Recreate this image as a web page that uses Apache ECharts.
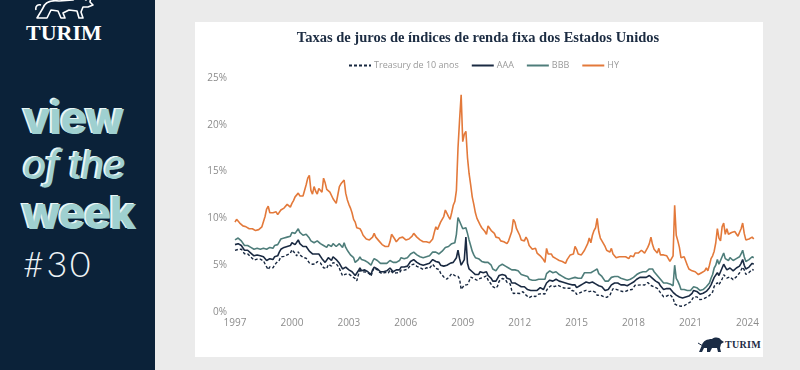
<!DOCTYPE html>
<html><head><meta charset="utf-8">
<script src="https://cdn.jsdelivr.net/npm/echarts@6/dist/echarts.min.js"></script>
<style>
html,body{margin:0;padding:0;width:800px;height:370px;overflow:hidden;background:#ebebeb;}
#side{position:absolute;left:0;top:0;width:155px;height:370px;background:#0b2239;}
#card{position:absolute;left:195px;top:22px;width:568px;height:335px;background:#ffffff;}
#chart{position:absolute;left:0;top:0;width:800px;height:370px;}
.t{position:absolute;white-space:nowrap;line-height:1;}
#brand{left:26px;top:19.5px;font:bold 22px "Liberation Serif",serif;color:#ffffff;}
#v1{left:23px;top:90px;font:800 45px Inter,sans-serif;letter-spacing:-1.5px;color:#9fd0d0;text-shadow:-2px -1px 0 #eaf6f6;}
#v2{left:23px;top:141px;font:italic 500 39px Inter,sans-serif;letter-spacing:-1px;color:#9fd0d0;text-shadow:-2px -1px 0 #eaf6f6;}
#v3{left:22px;top:185px;font:800 45px Inter,sans-serif;letter-spacing:-1.5px;color:#9fd0d0;text-shadow:-2px -1px 0 #eaf6f6;}
#v4{left:23px;top:241px;font:300 36px Lato,sans-serif;letter-spacing:2.5px;color:#eef3f5;}
#bull1{position:absolute;left:33px;top:-6px;}
#blogo{position:absolute;left:697px;top:335px;}
#btxt{left:725px;top:339px;font:bold 10px "Liberation Serif",serif;color:#1b2c45;letter-spacing:0.3px;}
</style></head>
<body>
<div id="side">
  <svg id="bull1" width="66" height="26" viewBox="0 0 66 26">
    <path d="M4,24 L10,14 C12,8 18,6 26,7 L40,6 C44,3 49,3 53,6 L58,2 L57,8 L60,11 L55,13 L50,13 L48,18 L50,24 L46,24 L44,17 L36,16 L30,19 L32,24 L28,24 L25,17 L18,16 L14,24 Z M3,16 C2,12 5,10 8,11" fill="none" stroke="#ffffff" stroke-width="1.6" stroke-linejoin="round"/>
  </svg>
  <div class="t" id="brand">TURIM</div>
  <div class="t" id="v1">view</div>
  <div class="t" id="v2">of the</div>
  <div class="t" id="v3">week</div>
  <div class="t" id="v4">#30</div>
</div>
<div id="card"></div>
<svg id="blogo" width="28" height="18" viewBox="0 0 28 18">
  <path d="M2,17 L5,10 C6,6 10,4 15,4 C18,2 22,2 24,5 L27,7 L24,9 L23,13 L24,17 L21,17 L20,13 L15,13 L13,17 L10,17 L10,13 L7,13 L5,17 Z" fill="#1b2c45"/>
  <path d="M1,8 L6,11" stroke="#1b2c45" stroke-width="1"/>
</svg>
<div class="t" id="btxt">TURIM</div>
<div id="chart"></div>
<script>
// Monthly values, Jan 1997 .. May 2024 (%)
const startYear = 1997;
const xTickYears = [1997, 2000, 2003, 2006, 2009, 2012, 2015, 2018, 2021, 2024];
const yTicks = [0, 5, 10, 15, 20, 25];
const seriesNames = ['Treasury de 10 anos', 'AAA', 'BBB', 'HY'];

const treasury = [
6.58,6.42,6.69,6.89,6.71,6.49,6.22,6.30,6.21,6.03,5.88,5.81,
5.54,5.57,5.65,5.64,5.65,5.50,5.46,5.34,4.81,4.53,4.83,4.65,
4.72,5.00,5.23,5.18,5.54,5.90,5.79,5.94,5.92,6.11,6.03,6.28,
6.66,6.52,6.26,5.99,6.44,6.10,6.05,5.83,5.80,5.74,5.72,5.24,
5.16,5.10,4.89,5.14,5.39,5.28,5.24,4.97,4.73,4.57,4.65,5.09,
5.04,4.91,5.28,5.21,5.16,4.93,4.65,4.26,3.87,3.94,4.05,4.03,
4.05,3.90,3.81,3.96,3.57,3.33,3.98,4.45,4.27,4.29,4.30,4.27,
4.15,4.08,3.83,4.35,4.72,4.73,4.50,4.28,4.13,4.10,4.19,4.23,
4.22,4.17,4.50,4.34,4.14,4.00,4.18,4.26,4.20,4.46,4.54,4.47,
4.42,4.57,4.72,4.99,5.11,5.11,5.09,4.88,4.72,4.73,4.60,4.56,
4.76,4.72,4.56,4.69,4.75,5.10,5.00,4.67,4.52,4.53,4.15,4.10,
3.74,3.74,3.51,3.68,3.88,4.10,4.01,3.89,3.69,3.81,3.53,2.42,
2.52,2.87,2.82,2.93,3.29,3.72,3.56,3.59,3.40,3.39,3.40,3.59,
3.73,3.69,3.73,3.85,3.42,3.20,3.01,2.70,2.65,2.54,2.76,3.29,
3.39,3.58,3.41,3.46,3.17,3.00,3.00,2.30,1.98,2.15,2.01,1.98,
1.97,1.97,2.17,2.05,1.80,1.62,1.53,1.68,1.72,1.75,1.65,1.72,
1.91,1.98,1.96,1.76,1.93,2.30,2.58,2.74,2.81,2.62,2.72,2.90,
2.86,2.71,2.72,2.71,2.56,2.60,2.54,2.42,2.53,2.30,2.33,2.21,
1.88,1.98,2.04,1.94,2.20,2.36,2.32,2.17,2.17,2.07,2.26,2.24,
2.09,1.78,1.89,1.81,1.81,1.64,1.50,1.56,1.63,1.76,2.14,2.49,
2.43,2.42,2.48,2.30,2.30,2.19,2.32,2.21,2.20,2.36,2.35,2.40,
2.58,2.86,2.84,2.87,2.98,2.91,2.89,2.89,3.00,3.15,3.12,2.83,
2.71,2.68,2.57,2.53,2.40,2.07,2.06,1.63,1.70,1.71,1.81,1.86,
1.76,1.50,0.87,0.66,0.67,0.73,0.62,0.65,0.68,0.79,0.87,0.93,
1.08,1.26,1.61,1.64,1.62,1.52,1.32,1.28,1.37,1.58,1.56,1.47,
1.76,1.93,2.13,2.75,2.90,3.14,2.90,2.90,3.52,3.98,3.89,3.62,
3.53,3.75,3.66,3.46,3.57,3.75,3.90,4.17,4.38,4.80,4.50,4.02,
4.06,4.21,4.21,4.54,4.48];

const aaa = [
7.2,7.0,7.3,7.3,7.1,6.9,6.6,6.7,6.6,6.4,6.3,6.2,
6.0,6.0,6.1,6.1,6.0,5.9,5.9,5.8,5.5,5.5,5.7,5.6,
5.6,5.9,6.0,6.0,6.4,6.7,6.7,6.9,6.8,7.0,6.9,7.1,
7.4,7.3,7.2,7.3,7.7,7.3,7.2,7.0,7.0,7.0,6.9,6.5,
6.3,6.2,6.0,6.2,6.3,6.2,6.0,5.7,5.6,5.3,5.4,5.8,
5.7,5.5,5.9,5.7,5.6,5.4,5.2,4.9,4.6,4.8,4.8,4.6,
4.5,4.3,4.3,4.3,3.9,3.8,4.4,4.7,4.4,4.5,4.5,4.4,
4.3,4.2,4.0,4.5,4.8,4.8,4.6,4.4,4.3,4.2,4.3,4.4,
4.4,4.4,4.7,4.5,4.3,4.3,4.5,4.5,4.5,4.8,4.9,4.8,
4.8,4.9,5.1,5.4,5.5,5.6,5.5,5.3,5.1,5.1,5.0,5.0,
5.2,5.1,5.1,5.2,5.3,5.6,5.5,5.4,5.3,5.3,5.0,5.1,
4.9,5.0,5.0,5.1,5.2,5.4,5.3,5.3,5.8,6.6,5.7,5.0,
5.1,5.6,8.0,5.2,4.6,4.5,4.3,4.2,4.0,4.1,4.0,4.3,
4.3,4.2,4.3,4.3,3.9,3.8,3.6,3.3,3.3,3.3,3.6,3.9,
3.9,4.0,3.9,3.9,3.6,3.6,3.5,3.1,3.0,3.1,3.0,2.9,
2.8,2.7,2.8,2.7,2.5,2.4,2.2,2.3,2.3,2.3,2.2,2.3,
2.5,2.6,2.6,2.4,2.6,3.1,3.3,3.4,3.5,3.3,3.4,3.5,
3.4,3.3,3.3,3.2,3.1,3.1,3.1,3.0,3.1,2.9,2.9,2.9,
2.6,2.7,2.8,2.7,3.0,3.2,3.2,3.1,3.1,3.0,3.2,3.1,
3.0,2.8,2.8,2.7,2.7,2.5,2.3,2.4,2.4,2.5,2.9,3.1,
3.1,3.0,3.1,2.9,2.9,2.8,2.9,2.8,2.8,2.9,3.0,3.0,
3.2,3.4,3.5,3.6,3.7,3.7,3.7,3.6,3.7,3.9,3.9,3.8,
3.6,3.5,3.3,3.3,3.1,2.8,2.8,2.4,2.5,2.5,2.5,2.5,
2.3,2.1,2.3,1.8,1.7,1.6,1.4,1.5,1.5,1.6,1.7,1.7,
1.8,2.0,2.3,2.3,2.2,2.1,1.9,2.0,2.0,2.2,2.2,2.2,
2.6,2.9,3.1,3.7,3.9,4.2,3.9,4.0,4.7,5.1,4.8,4.5,
4.4,4.7,4.5,4.4,4.6,4.7,4.7,4.9,5.2,5.6,5.0,4.6,
4.7,4.8,4.8,5.2,5.1];

const bbb = [
7.7,7.6,7.9,7.8,7.6,7.4,7.1,7.2,7.1,7.0,6.9,6.8,
6.7,6.8,6.8,6.8,6.7,6.7,6.8,6.9,6.7,6.9,6.9,6.8,
6.8,7.1,7.2,7.2,7.5,7.8,7.7,7.9,7.9,8.0,7.9,8.1,
8.5,8.5,8.4,8.6,8.9,8.5,8.4,8.2,8.2,8.3,8.2,7.9,
7.6,7.5,7.4,7.5,7.6,7.5,7.3,7.1,7.1,6.9,6.9,7.2,
7.1,7.0,7.3,7.1,7.0,7.1,7.3,7.1,6.9,7.4,6.9,6.6,
6.4,6.1,6.0,5.8,5.3,5.1,5.6,5.9,5.6,5.6,5.5,5.4,
5.3,5.2,5.0,5.4,5.7,5.7,5.5,5.3,5.2,5.1,5.2,5.2,
5.2,5.1,5.5,5.4,5.3,5.2,5.3,5.4,5.5,5.8,5.8,5.7,
5.7,5.8,6.0,6.2,6.3,6.4,6.3,6.1,5.9,5.9,5.8,5.8,
6.0,5.9,5.9,6.0,6.1,6.4,6.4,6.4,6.3,6.2,6.3,6.5,
6.6,6.9,7.1,7.0,6.9,7.3,7.4,7.4,8.3,10.1,9.9,9.3,
8.9,9.1,9.0,8.4,7.7,7.1,6.5,6.1,5.8,5.7,5.7,5.6,
5.4,5.4,5.3,5.3,5.3,5.2,5.0,4.6,4.5,4.4,4.6,4.9,
5.0,5.1,5.0,4.9,4.7,4.7,4.6,4.5,4.6,4.5,4.5,4.4,
4.2,4.0,4.0,3.9,3.9,3.8,3.5,3.5,3.4,3.3,3.4,3.4,
3.5,3.6,3.5,3.3,3.5,4.1,4.3,4.4,4.4,4.2,4.3,4.3,
4.2,4.0,3.9,3.8,3.7,3.6,3.6,3.5,3.7,3.6,3.6,3.7,
3.5,3.6,3.7,3.6,3.9,4.2,4.2,4.2,4.3,4.2,4.3,4.4,
4.5,4.6,4.1,3.9,3.8,3.6,3.3,3.3,3.3,3.4,3.7,3.8,
3.8,3.7,3.8,3.6,3.6,3.5,3.5,3.4,3.4,3.5,3.5,3.5,
3.7,3.9,4.0,4.1,4.2,4.3,4.3,4.2,4.3,4.5,4.6,4.8,
4.6,4.3,4.1,3.9,3.9,3.5,3.4,3.1,3.1,3.1,3.0,3.0,
2.9,2.8,5.0,3.6,3.3,2.9,2.4,2.3,2.4,2.4,2.3,2.2,
2.3,2.4,2.7,2.6,2.6,2.5,2.3,2.3,2.4,2.6,2.7,2.7,
3.1,3.6,4.0,4.7,5.0,5.6,5.1,5.1,5.9,6.3,5.7,5.7,
5.5,5.8,5.6,5.5,5.7,5.7,5.7,5.9,6.2,6.6,5.9,5.4,
5.5,5.6,5.6,5.9,5.8];

const hy = [
9.6,9.9,9.7,9.5,9.3,9.2,9.0,9.1,9.0,8.9,9.0,8.9,
8.8,8.7,8.7,8.8,8.9,9.1,9.2,10.2,11.0,11.3,10.6,10.8,
10.6,10.5,10.7,10.4,10.6,10.9,10.9,11.1,11.3,11.5,11.3,11.2,
11.6,11.9,12.3,12.5,12.7,12.4,12.5,12.4,12.6,13.6,14.3,14.6,
13.0,12.6,13.4,12.9,12.6,13.2,13.0,12.8,14.3,13.8,13.1,12.9,
12.8,12.6,12.1,11.9,11.6,12.5,13.4,13.7,13.9,14.1,12.7,12.0,
11.5,11.1,10.6,9.9,9.6,9.0,9.2,8.9,8.6,8.2,8.0,7.8,
7.6,7.7,7.6,8.0,8.4,8.0,7.8,7.6,7.4,7.2,7.1,7.0,
6.9,7.0,7.5,8.3,8.4,7.8,7.5,7.6,7.9,7.9,8.0,7.9,
7.7,7.7,7.8,7.9,8.1,8.4,8.2,8.0,7.9,7.7,7.6,7.5,
7.4,7.5,7.6,7.4,7.4,7.8,8.5,9.1,8.8,8.9,9.6,9.7,
10.2,10.9,11.1,10.2,9.9,10.6,11.4,11.8,13.0,17.5,20.5,23.2,
18.2,19.0,19.3,16.5,14.8,13.6,12.3,11.5,10.6,10.0,9.9,9.3,
9.0,9.1,8.6,8.3,9.2,9.1,8.7,8.6,8.4,8.0,8.0,7.9,
7.6,7.4,7.5,7.3,7.3,7.6,7.5,8.6,9.9,9.6,8.9,8.8,
8.2,7.7,7.5,7.6,8.0,7.7,7.1,6.9,6.7,6.6,6.8,6.3,
6.1,6.0,5.9,5.6,5.3,6.8,6.2,6.3,6.2,5.9,5.8,5.7,
5.7,5.5,5.5,5.4,5.3,5.2,5.6,5.7,6.1,6.1,6.2,7.0,
6.7,6.2,6.4,6.1,6.1,6.6,6.8,7.3,7.9,7.4,8.2,8.7,
9.0,10.0,8.6,7.9,7.6,7.6,7.0,6.6,6.6,6.4,6.8,6.2,
6.0,5.8,6.0,5.9,5.8,5.9,5.7,5.9,5.7,5.7,6.0,5.9,
5.9,6.3,6.4,6.3,6.5,6.6,6.4,6.3,6.4,6.9,7.3,8.0,
7.2,6.7,6.6,6.3,6.8,6.1,5.9,6.1,5.9,6.0,6.0,5.4,
5.6,6.0,11.4,8.2,7.6,6.9,5.8,5.6,5.9,5.8,5.0,4.6,
4.4,4.4,4.5,4.3,4.3,4.0,4.2,4.2,4.1,4.4,4.7,4.4,
5.0,5.7,6.0,6.5,7.4,8.9,7.9,7.6,9.1,9.5,8.3,8.9,
8.3,8.5,8.5,8.3,8.6,8.4,8.1,8.3,8.9,9.5,8.4,7.7,
7.9,7.8,7.7,8.0,7.8];

const toPoints = arr => arr.map((v, i) => [i / 12, v]);
const axisFont = '"Open Sans", sans-serif';
const navy = '#17273f';

const chart = echarts.init(document.getElementById('chart'), null, {renderer: 'canvas'});
chart.setOption({
  backgroundColor: 'transparent',
  animation: false,
  grid: {left: 235, right: 45, top: 78, bottom: 58},
  graphic: [{
    type: 'text', x: 478, y: 38,
    style: {text: 'Taxas de juros de índices de renda fixa dos Estados Unidos',
      font: 'bold 14.5px "Liberation Serif", serif', fill: '#1c2c42',
      textAlign: 'center', textVerticalAlign: 'middle'}
  }],
  legend: {
    left: 343, top: 56, itemWidth: 22, itemHeight: 8, itemGap: 12,
    itemStyle: {opacity: 0},
    textStyle: {color: '#9a9a9a', fontSize: 9, fontFamily: axisFont, padding: [0,0,0,-2]},
    data: seriesNames
  },
  xAxis: {
    type: 'value', min: 0, max: 27.4, interval: 3,
    axisLine: {show: false}, axisTick: {show: false}, splitLine: {show: false},
    axisLabel: {color: '#8c8c8c', fontSize: 10, fontFamily: axisFont, margin: 6,
      showMaxLabel: false,
      formatter: v => (xTickYears.indexOf(startYear + Math.round(v)) >= 0 ? String(startYear + Math.round(v)) : '')}
  },
  yAxis: {
    type: 'value', min: yTicks[0], max: yTicks[yTicks.length - 1], interval: 5,
    axisLine: {show: false}, axisTick: {show: false}, splitLine: {show: false},
    axisLabel: {color: '#8c8c8c', fontSize: 10, fontFamily: axisFont, margin: 8, formatter: '{value}%'}
  },
  series: [
    {name: seriesNames[0], type: 'line', data: toPoints(treasury), symbol: 'none',
      lineStyle: {color: navy, width: 1.4, type: [3, 2]}, itemStyle: {color: navy}},
    {name: seriesNames[1], type: 'line', data: toPoints(aaa), symbol: 'none',
      lineStyle: {color: '#1a2a42', width: 1.6}, itemStyle: {color: '#1a2a42'}},
    {name: seriesNames[2], type: 'line', data: toPoints(bbb), symbol: 'none',
      lineStyle: {color: '#4e7d7a', width: 1.6}, itemStyle: {color: '#4e7d7a'}},
    {name: seriesNames[3], type: 'line', data: toPoints(hy), symbol: 'none',
      lineStyle: {color: '#e3793a', width: 1.6}, itemStyle: {color: '#e3793a'}}
  ]
});
</script>
</body></html>
